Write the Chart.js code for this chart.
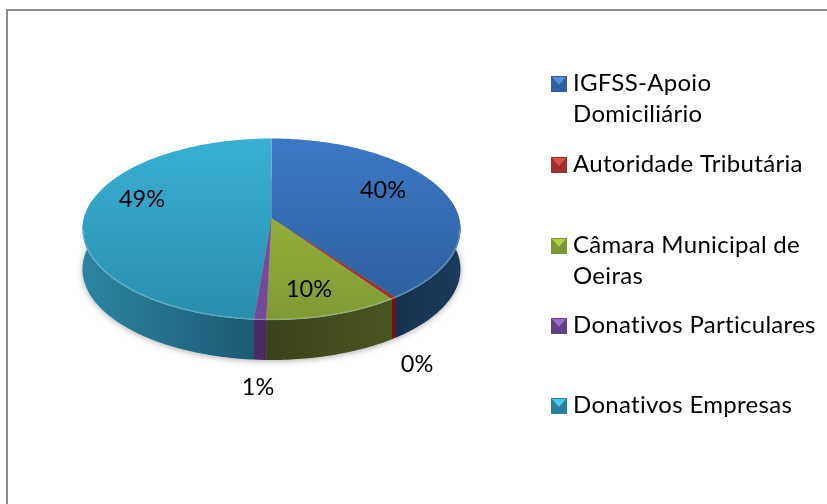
<!DOCTYPE html>
<html>
<head>
<meta charset="utf-8">
<style>
  html, body { margin: 0; padding: 0; background: #fff; }
  canvas { display: block; }
</style>
<script src="https://cdn.jsdelivr.net/npm/chart.js@4/dist/chart.umd.min.js"></script>
</head>
<body>
<canvas id="grafico" width="827" height="504"></canvas>
<script>
const categorias = [['IGFSS-Apoio', 'Domiciliário'], ['Autoridade Tributária'], ['Câmara Municipal de', 'Oeiras'], ['Donativos Particulares'], ['Donativos Empresas']];
const valores = [39.8, 0.4, 10.2, 0.9, 48.7];
const coresTopo = [['#3b78c4', '#2b5e9c'], ['#b03430', '#a02c2a'], ['#a3c03c', '#7f9a35'], ['#8350a8', '#74479a'], ['#38b0d4', '#2a8eae']];
const coresLado = [['#16324f', '#1b3a5c'], ['#6e1512', '#6e1512'], ['#3a4318', '#4a5420'], ['#4a2a63', '#4a2a63'], ['#2b84a2', '#1d5a72']];
const coresLegenda = ['#2f5f9e', '#a02e2c', '#7c9633', '#5f3f86', '#2a7f9c'];
const coresBrilho = ['#4f8fdc', '#d8504c', '#b0cf48', '#9a6cc8', '#48cbea'];

// posicoes de texto (px)
const posPercent = [[383, 190], [417, 364], [309, 289], [258, 387], [142, 199]];
const legendaY = [[83, 114], [164], [245, 276], [325], [405]];

const fonte = 'Lato, "Open Sans", sans-serif';

// projecao em perspectiva do disco unitario para o ecra
const cx = 271.5, cy0 = 218, kx = 187.5, ky = 62.3, persp = -0.124, altura = 40;
function proj(ang, r, dy) {
    const u = r * Math.cos(ang), v = r * Math.sin(ang), w = 1 + persp * v;
    return [cx + kx * u / w, (ky * v + cy0) / w + dy];
}

function tracarFatia(ctx, a0, a1) {
    ctx.beginPath();
    ctx.moveTo(...proj(0, 0, 0));
    const n = Math.max(2, Math.ceil((a1 - a0) * 60));
    for (let i = 0; i <= n; i++) ctx.lineTo(...proj(a0 + (a1 - a0) * i / n, 1, 0));
    ctx.closePath();
}

function tracarLado(ctx, a0, a1) {
    const ini = Math.max(a0, -0.2), fim = Math.min(a1, Math.PI + 0.2);
    if (fim <= ini) return false;
    const n = Math.max(2, Math.ceil((fim - ini) * 60));
    ctx.beginPath();
    for (let i = 0; i <= n; i++) ctx.lineTo(...proj(ini + (fim - ini) * i / n, 1, 0));
    for (let i = n; i >= 0; i--) ctx.lineTo(...proj(ini + (fim - ini) * i / n, 1, altura));
    ctx.closePath();
    return true;
}

function desenharMarcador(ctx, x, y, i) {
    ctx.fillStyle = coresLegenda[i];
    ctx.fillRect(x, y, 16, 16);
    ctx.fillStyle = coresBrilho[i];
    ctx.beginPath();
    ctx.moveTo(x + 1, y + 1);
    ctx.lineTo(x + 15, y + 1);
    ctx.lineTo(x + 8, y + 9);
    ctx.closePath();
    ctx.fill();
}

const pizza3d = {
    id: 'pizza3d',
    beforeDatasetsDraw(chart) {
        const ctx = chart.ctx;
        const arcos = chart.getDatasetMeta(0).data;
        ctx.save();

        // sombra suave por baixo
        ctx.save();
        ctx.filter = 'blur(3px)';
        ctx.fillStyle = 'rgba(80,80,80,0.5)';
        ctx.beginPath();
        ctx.ellipse(cx, 270, 189, 91, 0, 0, Math.PI * 2);
        ctx.fill();
        ctx.restore();

        // paredes laterais
        arcos.forEach((arco, i) => {
            if (!tracarLado(ctx, arco.startAngle, arco.endAngle)) return;
            const a = proj(Math.min(arco.endAngle, Math.PI), 1, 0)[0];
            const b = proj(Math.max(arco.startAngle, 0), 1, 0)[0];
            const g = ctx.createLinearGradient(a, 0, b, 0);
            g.addColorStop(0, coresLado[i][0]);
            g.addColorStop(1, coresLado[i][1]);
            ctx.fillStyle = g;
            ctx.fill();
        });

        // topo
        arcos.forEach((arco, i) => {
            tracarFatia(ctx, arco.startAngle, arco.endAngle);
            const g = ctx.createLinearGradient(0, 138, 0, 320);
            g.addColorStop(0, coresTopo[i][0]);
            g.addColorStop(1, coresTopo[i][1]);
            ctx.fillStyle = g;
            ctx.fill();
        });

        // brilho na borda
        ctx.beginPath();
        ctx.ellipse(cx, 229, 188.5, 90.5, 0, Math.PI * 1.0, 0, true);
        ctx.strokeStyle = 'rgba(190,230,240,0.3)';
        ctx.lineWidth = 1.5;
        ctx.stroke();

        ctx.restore();
        return false;
    },
    afterDraw(chart) {
        const ctx = chart.ctx;
        ctx.save();

        // moldura
        ctx.strokeStyle = '#8c8c8c';
        ctx.lineWidth = 2;
        ctx.beginPath();
        ctx.moveTo(7, 504);
        ctx.lineTo(7, 10);
        ctx.lineTo(827, 10);
        ctx.stroke();

        ctx.fillStyle = '#000';
        ctx.textBaseline = 'middle';
        ctx.textAlign = 'center';
        ctx.font = '23.5px ' + fonte;
        valores.forEach((v, i) => {
            ctx.fillText(Math.round(v) + '%', posPercent[i][0], posPercent[i][1]);
        });

        ctx.textAlign = 'left';
        ctx.font = '24px ' + fonte;
        ctx.letterSpacing = '0.3px';
        categorias.forEach((linhas, i) => {
            desenharMarcador(ctx, 551, legendaY[i][0] - 7, i);
            ctx.fillStyle = '#000';
            linhas.forEach((txt, k) => ctx.fillText(txt, 573, legendaY[i][k]));
        });
        ctx.restore();
    }
};

new Chart(document.getElementById('grafico'), {
    type: 'pie',
    data: {
        labels: categorias,
        datasets: [{ data: valores, backgroundColor: coresLegenda, borderWidth: 0 }]
    },
    options: {
        responsive: false,
        animation: false,
        events: [],
        plugins: { legend: { display: false }, tooltip: { enabled: false } }
    },
    plugins: [pizza3d]
});
</script>
</body>
</html>
